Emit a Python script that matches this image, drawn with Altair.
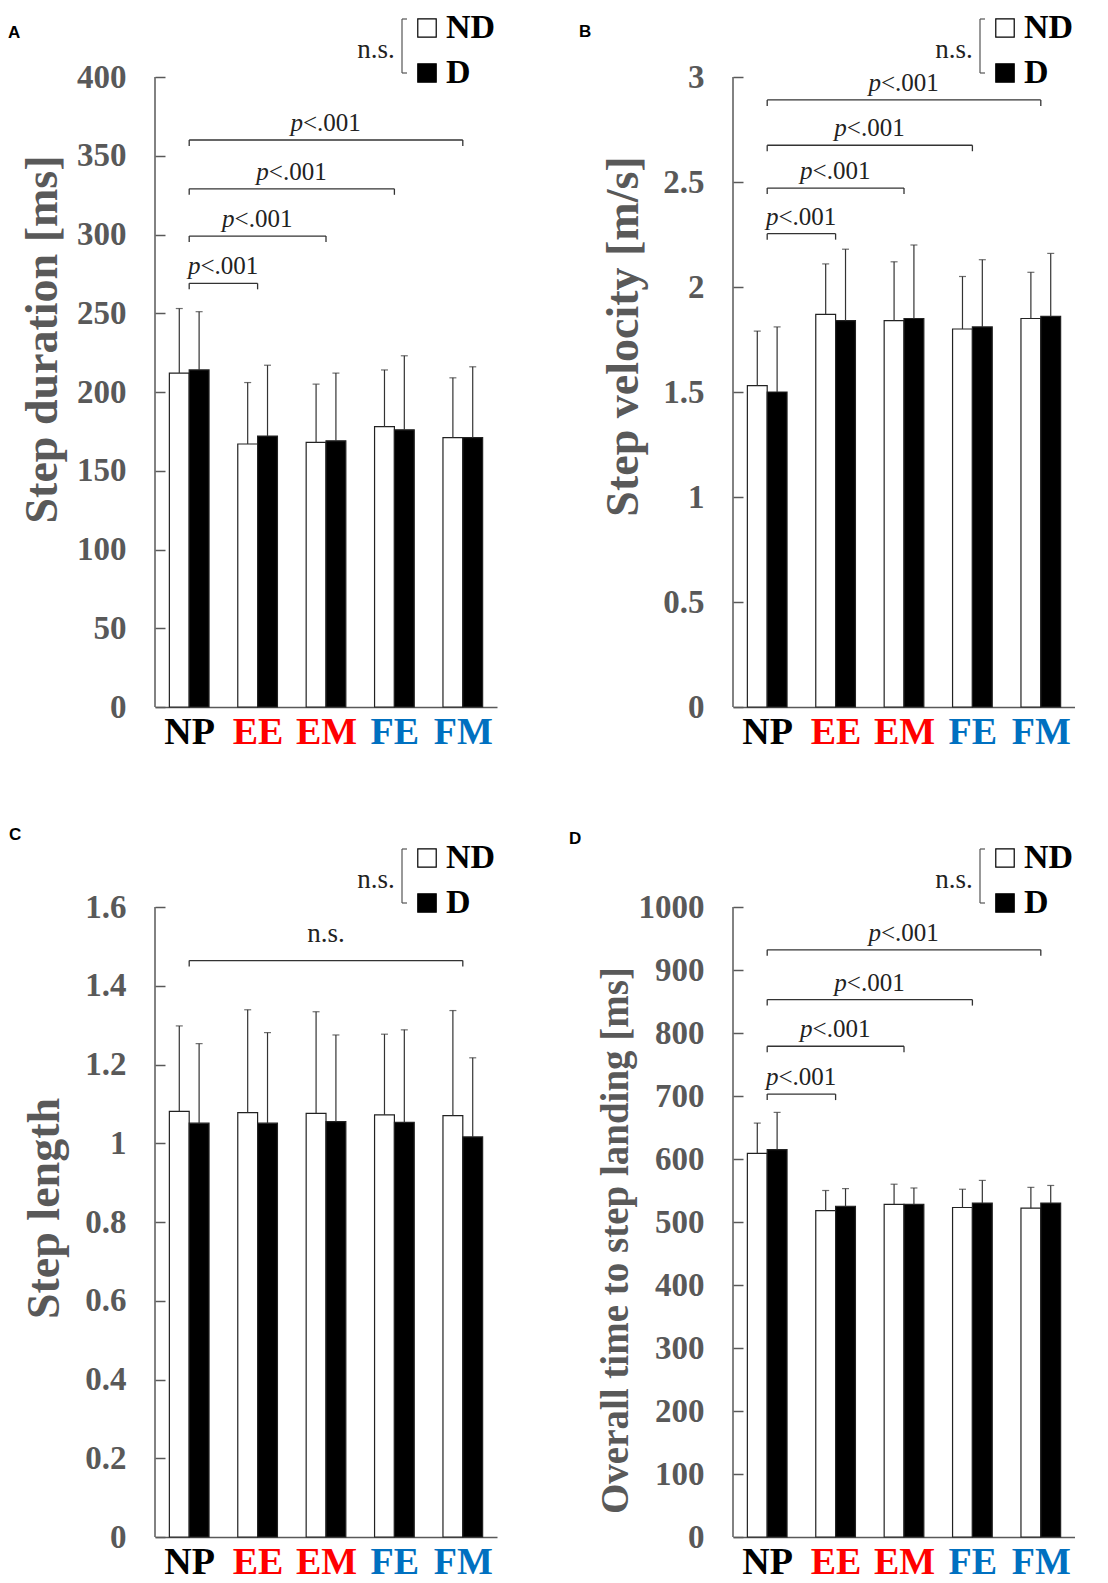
import json
import altair as alt
import pandas as pd

# ---------------- data ----------------
CATEGORIES = ["NP", "EE", "EM", "FE", "FM"]
CAT_COLORS = ["#000000", "#ff0000", "#ff0000", "#0070c0", "#0070c0"]
GROUPS = ["ND", "D"]

# A: Step duration [ms]
A_ND_MEAN = [212, 167, 168, 178, 171]
A_ND_SD = [41, 39, 37, 36, 38]
A_D_MEAN = [214, 172, 169, 176, 171]
A_D_SD = [37, 45, 43, 47, 45]
A_BR_END = ["EE", "EM", "FE", "FM"]
A_BR_LEVEL = [269, 299, 329, 360]
A_BR_LABEL = ["p<.001", "p<.001", "p<.001", "p<.001"]

# B: Step velocity [m/s]
B_ND_MEAN = [1.53, 1.87, 1.84, 1.80, 1.85]
B_ND_SD = [0.26, 0.24, 0.28, 0.25, 0.22]
B_D_MEAN = [1.50, 1.84, 1.85, 1.81, 1.86]
B_D_SD = [0.31, 0.34, 0.35, 0.32, 0.30]
B_BR_END = ["EE", "EM", "FE", "FM"]
B_BR_LEVEL = [2.254, 2.471, 2.675, 2.891]
B_BR_LABEL = ["p<.001", "p<.001", "p<.001", "p<.001"]

# C: Step length
C_ND_MEAN = [1.081, 1.078, 1.076, 1.072, 1.070]
C_ND_SD = [0.217, 0.261, 0.258, 0.205, 0.267]
C_D_MEAN = [1.051, 1.051, 1.055, 1.053, 1.016]
C_D_SD = [0.202, 0.230, 0.220, 0.235, 0.201]
C_BR_END = ["FM"]
C_BR_LEVEL = [1.464]
C_BR_LABEL = ["n.s."]

# D: Overall time to step landing [ms]
D_ND_MEAN = [609, 518, 528, 523, 522]
D_ND_SD = [48, 32, 32, 29, 33]
D_D_MEAN = [615, 525, 528, 530, 530]
D_D_SD = [59, 28, 26, 36, 28]
D_BR_END = ["EE", "EM", "FE", "FM"]
D_BR_LEVEL = [703, 779, 853, 932]
D_BR_LABEL = ["p<.001", "p<.001", "p<.001", "p<.001"]

# ---------------- style ----------------
SERIF = "Liberation Serif"
GRAY = "#595959"
LINE = "#333333"
W, H = 342, 630

one = pd.DataFrame({"k": [0]})

label_expr = json.dumps(CATEGORIES) + "[datum.value]"
color_expr = json.dumps(CAT_COLORS) + "[datum.value]"


def panel(letter, letter_xy, title, title_size, title_x, title_y, ymax, ystep,
          nd_mean, nd_sd, d_mean, d_sd, br_end, br_level, br_label):
    rows = []
    for g, means, sds in (("ND", nd_mean, nd_sd), ("D", d_mean, d_sd)):
        for i, (m, s) in enumerate(zip(means, sds)):
            rows.append({"cat": CATEGORIES[i], "idx": i, "group": g, "mean": m, "sd": s})
    bars_df = pd.DataFrame(rows)
    br_df = pd.DataFrame({
        "start": [0] * len(br_end),
        "end": [CATEGORIES.index(e) for e in br_end],
        "level": br_level,
        "label": br_label,
    })

    xs = alt.Scale(domain=[-0.5, 4.5], nice=False, zero=False)
    ys = alt.Scale(domain=[0, ymax], nice=False, zero=True)
    nticks = int(round(ymax / ystep))
    yvals = [round(k * ystep, 6) for k in range(nticks + 1)]

    xaxis = alt.Axis(values=[0, 1, 2, 3, 4], labelExpr=label_expr,
                     labelColor=alt.ExprRef(expr=color_expr),
                     labelFont=SERIF, labelFontSize=38, labelFontWeight="bold",
                     labelPadding=6, labelFlush=False, labelOverlap=False, labelBound=False,
                     ticks=False, grid=False, domainColor=GRAY, domainWidth=1.5)
    yaxis = alt.Axis(values=yvals, format="~r", grid=False, domain=False,
                     offset=-10, tickSize=10, tickColor=GRAY, tickWidth=1.5,
                     labelFont=SERIF, labelFontSize=33, labelFontWeight="bold",
                     labelColor=GRAY, labelPadding=29, labelFlush=False,
                     titleFont=SERIF, titleFontSize=title_size, titleFontWeight="bold",
                     titleColor=GRAY, titleAngle=270, titleX=title_x, titleY=title_y,
                     titleAlign="center", titleBaseline="bottom")

    def X(field):
        return alt.X(field, scale=xs, axis=xaxis, title=None)

    def Y(field):
        return alt.Y(field, scale=ys, axis=yaxis, title=title)

    legend = alt.Legend(orient="none", legendX=255, legendY=-66, title=None,
                        symbolType="square", symbolSize=340, symbolStrokeColor="black",
                        symbolStrokeWidth=1.2, labelFont=SERIF, labelFontSize=34,
                        labelFontWeight="bold", labelColor="black", rowPadding=11,
                        labelOffset=2, padding=0)

    base = (alt.Chart(bars_df)
            .transform_calculate(x0="datum.idx + (datum.group == 'ND' ? -0.29 : 0)")
            .transform_calculate(x1="datum.x0 + 0.29")
            .transform_calculate(xc="datum.x0 + 0.145")
            .transform_calculate(base="0")
            .transform_calculate(top="datum.mean + datum.sd"))

    bars = base.mark_bar(stroke="#222222", strokeWidth=1.2).encode(
        x=X("x0:Q"), x2="x1:Q",
        y=Y("mean:Q"), y2="base:Q",
        fill=alt.Fill("group:N", scale=alt.Scale(domain=GROUPS, range=["white", "black"]),
                      legend=legend),
    )
    errs = base.mark_rule(color=LINE, strokeWidth=1.2).encode(
        x=X("xc:Q"), y=Y("mean:Q"), y2="top:Q")
    caps = base.mark_tick(orient="horizontal", size=7, thickness=1.2, color=LINE).encode(
        x=X("xc:Q"), y=Y("top:Q"))

    tick = ymax * 0.0095
    bb = (alt.Chart(br_df)
          .transform_calculate(mid="(datum.start + datum.end) / 2")
          .transform_calculate(low=f"datum.level - {tick}")
          .transform_calculate(pre="indexof(datum.label, 'p<') == 0 ? 'p' : ''")
          .transform_calculate(rest="datum.pre == 'p' ? substring(datum.label, 1) : datum.label"))
    hline = bb.mark_rule(color=LINE, strokeWidth=1.3).encode(
        x=X("start:Q"), x2="end:Q", y=Y("level:Q"))
    lt = bb.mark_rule(color=LINE, strokeWidth=1.3).encode(
        x=X("start:Q"), y=Y("level:Q"), y2="low:Q")
    rt = bb.mark_rule(color=LINE, strokeWidth=1.3).encode(
        x=X("end:Q"), y=Y("level:Q"), y2="low:Q")
    t_pre = bb.transform_filter("datum.pre != ''").mark_text(
        font=SERIF, fontSize=25, fontStyle="italic", align="right", baseline="alphabetic",
        dx=-23, dy=-9, color="#222222").encode(
        x=X("mid:Q"), y=Y("level:Q"), text="pre:N")
    t_rest = bb.transform_filter("datum.pre != ''").mark_text(
        font=SERIF, fontSize=25, align="left", baseline="alphabetic",
        dx=-23, dy=-9, color="#222222").encode(
        x=X("mid:Q"), y=Y("level:Q"), text="rest:N")
    t_ns = bb.transform_filter("datum.pre == ''").mark_text(
        font=SERIF, fontSize=27, align="center", baseline="alphabetic",
        dy=-19, color="#222222").encode(
        x=X("mid:Q"), y=Y("level:Q"), text="rest:N")

    yline = alt.Chart(one).mark_rule(color=GRAY, strokeWidth=1.5).encode(
        x=alt.value(0), y=alt.value(0), y2=alt.value(H))

    ns_txt = alt.Chart(one).mark_text(font=SERIF, fontSize=27, color="#222222",
                                      align="center", baseline="middle").encode(
        x=alt.value(221), y=alt.value(-27), text=alt.value("n.s."))
    lb_v = alt.Chart(one).mark_rule(color="#555555", strokeWidth=1.2).encode(
        x=alt.value(247), y=alt.value(-58), y2=alt.value(-4))
    lb_t = alt.Chart(one).mark_rule(color="#555555", strokeWidth=1.2).encode(
        x=alt.value(247), x2=alt.value(252), y=alt.value(-58))
    lb_b = alt.Chart(one).mark_rule(color="#555555", strokeWidth=1.2).encode(
        x=alt.value(247), x2=alt.value(252), y=alt.value(-4))

    let = alt.Chart(one).mark_text(font="Liberation Sans", fontSize=17, fontWeight="bold",
                                   align="left", baseline="alphabetic", color="black").encode(
        x=alt.value(letter_xy[0]), y=alt.value(letter_xy[1]), text=alt.value(letter))

    return alt.layer(bars, errs, caps, hline, lt, rt, t_pre, t_rest, t_ns, yline,
                     ns_txt, lb_v, lb_t, lb_b, let).properties(width=W, height=H)


pA = panel("A", (-147, -39), "Step duration [ms]", 46, -99, 262, 400, 50,
           A_ND_MEAN, A_ND_SD, A_D_MEAN, A_D_SD, A_BR_END, A_BR_LEVEL, A_BR_LABEL)
pB = panel("B", (-154, -40), "Step velocity [m/s]", 46, -96, 259, 3, 0.5,
           B_ND_MEAN, B_ND_SD, B_D_MEAN, B_D_SD, B_BR_END, B_BR_LEVEL, B_BR_LABEL)
pC = panel("C", (-146, -67), "Step length", 46, -97, 301, 1.6, 0.2,
           C_ND_MEAN, C_ND_SD, C_D_MEAN, C_D_SD, C_BR_END, C_BR_LEVEL, C_BR_LABEL)
pD = panel("D", (-164, -63), "Overall time to step landing [ms]", 39, -108, 333, 1000, 100,
           D_ND_MEAN, D_ND_SD, D_D_MEAN, D_D_SD, D_BR_END, D_BR_LEVEL, D_BR_LABEL)

chart = (alt.concat(pA, pB, pC, pD, columns=2,
                    spacing=alt.RowColnumber(row=75, column=72),
                    padding={"left": 0, "top": 3, "right": 0, "bottom": 0})
         .resolve_scale(x="independent", y="independent", fill="independent")
         .configure_view(stroke=None))

chart.save("out.html", embed_options={"renderer": "svg", "actions": False})
